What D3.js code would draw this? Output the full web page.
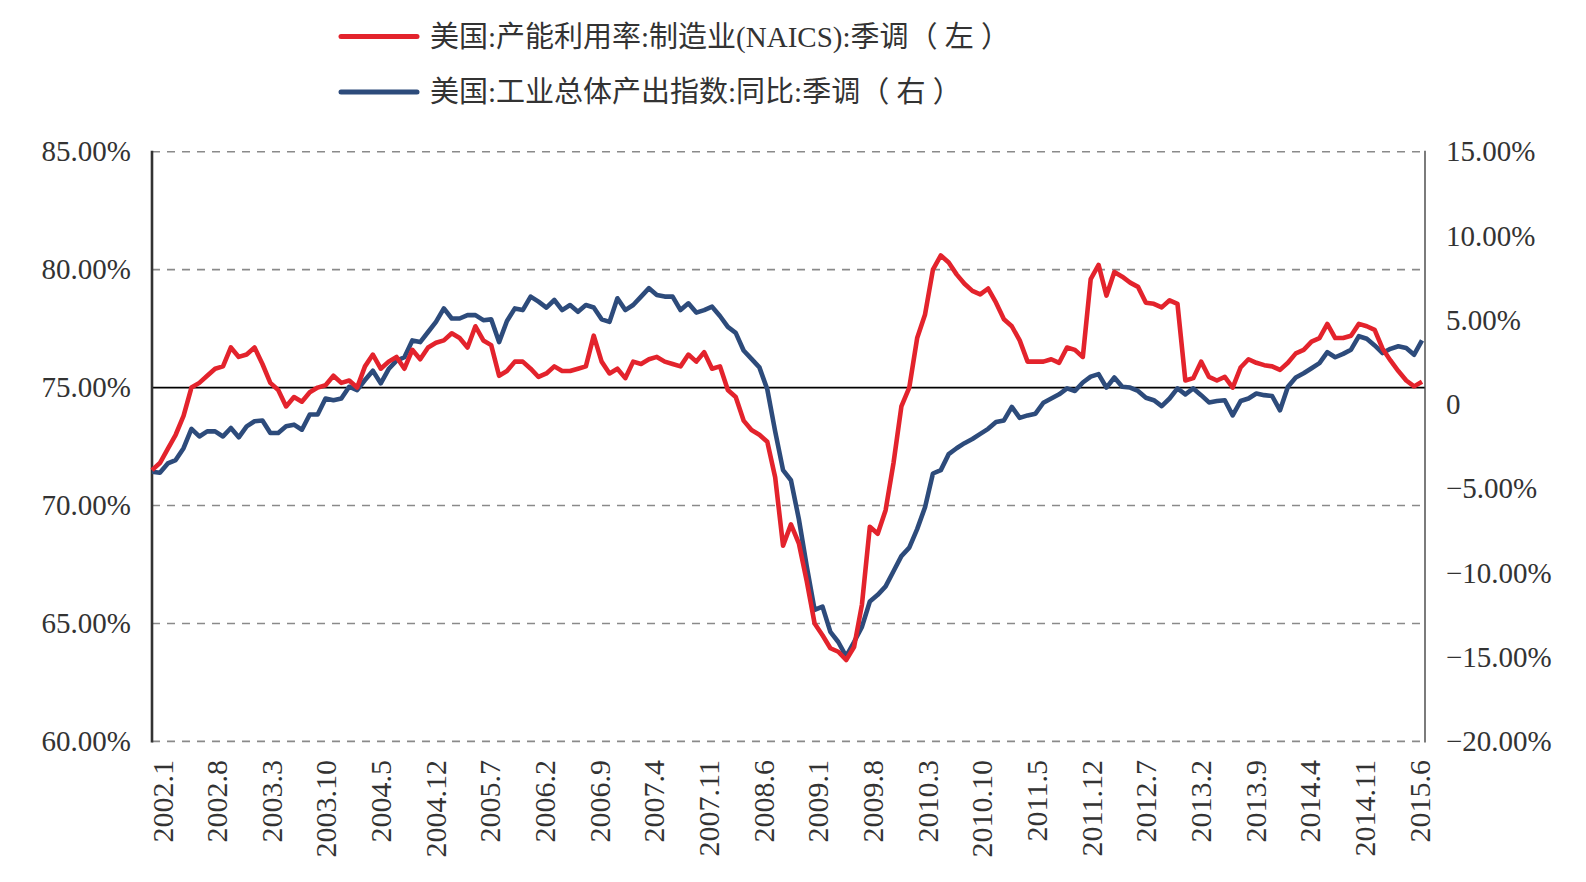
<!DOCTYPE html>
<html>
<head>
<meta charset="utf-8">
<script src="https://cdn.jsdelivr.net/npm/d3@7"></script>
<style>
  html, body { margin: 0; padding: 0; background: #fff; }
  svg { display: block; }
</style>
</head>
<body>
<svg id="chart" width="1586" height="882"></svg>
<script>
// monthly categories 2002.1 .. 2015.6
const months = d3.range(162).map(i => (2002 + Math.floor(i / 12)) + "." + (i % 12 + 1));

const tickLabels = ["2002.1", "2002.8", "2003.3", "2003.10", "2004.5", "2004.12", "2005.7", "2006.2",
  "2006.9", "2007.4", "2007.11", "2008.6", "2009.1", "2009.8", "2010.3", "2010.10", "2011.5",
  "2011.12", "2012.7", "2013.2", "2013.9", "2014.4", "2014.11", "2015.6"];

const leftTicks = [60, 65, 70, 75, 80, 85];
const rightTicks = [-20, -15, -10, -5, 0, 5, 10, 15];

const seriesNames = ["美国:产能利用率:制造业(NAICS):季调（ 左 ）", "美国:工业总体产出指数:同比:季调（ 右 ）"];

// 美国:产能利用率:制造业(NAICS):季调 (%)
const capUtil = [
  71.5, 71.8, 72.4, 73.0, 73.8, 75.0, 75.2, 75.5, 75.8, 75.9, 76.7, 76.3,
  76.4, 76.7, 76.0, 75.2, 74.9, 74.2, 74.6, 74.4, 74.8, 75.0, 75.1, 75.5,
  75.2, 75.3, 75.0, 75.9, 76.4, 75.8, 76.1, 76.3, 75.8, 76.6, 76.2, 76.7,
  76.9, 77.0, 77.3, 77.1, 76.7, 77.6, 77.0, 76.8, 75.5, 75.7, 76.1, 76.1,
  75.8, 75.45, 75.6, 75.9, 75.7, 75.7, 75.8, 75.9, 77.2, 76.1, 75.6, 75.8,
  75.4, 76.1, 76.0, 76.2, 76.3, 76.1, 76.0, 75.9, 76.4, 76.1, 76.5, 75.8,
  75.9, 74.9, 74.6, 73.6, 73.2, 73.0, 72.7, 71.2, 68.3, 69.2, 68.4, 66.8,
  65.0, 64.5, 63.95, 63.8, 63.45, 64.0, 65.8, 69.1, 68.8, 69.8, 71.8, 74.2,
  75.0, 77.1, 78.1, 80.0, 80.6, 80.3, 79.8, 79.4, 79.1, 78.95, 79.2, 78.6,
  77.9, 77.6, 77.0, 76.1, 76.1, 76.1, 76.2, 76.05, 76.7, 76.6, 76.3, 79.6,
  80.2, 78.9, 79.9, 79.7, 79.45, 79.27, 78.6, 78.55, 78.4, 78.7, 78.55, 75.3,
  75.4, 76.1, 75.45, 75.3, 75.45, 75.0, 75.85, 76.2, 76.05, 75.95, 75.9, 75.75,
  76.05, 76.45, 76.6, 76.95, 77.1, 77.7, 77.1, 77.1, 77.2, 77.7, 77.6, 77.45,
  76.65, 76.15, 75.7, 75.3, 75.05, 75.25
];

// 美国:工业总体产出指数:同比:季调 (%)
const ipYoy = [
  -4.0, -4.05, -3.5, -3.3, -2.6, -1.45, -1.9, -1.6, -1.6, -1.9, -1.4, -1.95,
  -1.3, -1.0, -0.95, -1.7, -1.7, -1.3, -1.2, -1.5, -0.6, -0.6, 0.35, 0.25,
  0.35, 1.05, 0.85, 1.45, 2.0, 1.25, 2.1, 2.6, 2.8, 3.8, 3.7, 4.3,
  4.9, 5.7, 5.1, 5.1, 5.3, 5.3, 5.0, 5.05, 3.7, 4.95, 5.7, 5.6,
  6.4, 6.1, 5.75, 6.2, 5.6, 5.9, 5.5, 5.9, 5.75, 5.05, 4.9, 6.3,
  5.6, 5.9, 6.4, 6.9, 6.5, 6.4, 6.4, 5.6, 6.0, 5.45, 5.6, 5.8,
  5.25, 4.6, 4.25, 3.2, 2.7, 2.2, 0.9, -1.6, -3.9, -4.5, -6.8, -9.6,
  -12.2, -12.0, -13.5, -14.1, -14.95, -14.1, -13.2, -11.7, -11.3, -10.8, -9.9, -9.0,
  -8.5, -7.4, -6.1, -4.1, -3.9, -2.95, -2.6, -2.3, -2.05, -1.75, -1.45, -1.05,
  -0.95, -0.15, -0.8, -0.65, -0.55, 0.1, 0.35, 0.6, 0.95, 0.8, 1.3, 1.65,
  1.8, 1.0, 1.6, 1.05, 1.0, 0.8, 0.4, 0.25, -0.1, 0.35, 0.95, 0.6,
  0.95, 0.55, 0.12, 0.2, 0.25, -0.65, 0.2, 0.35, 0.65, 0.55, 0.5, -0.35,
  1.05, 1.6, 1.85, 2.15, 2.45, 3.1, 2.8, 3.0, 3.25, 4.05, 3.9, 3.5,
  3.05, 3.3, 3.45, 3.35, 2.95, 3.8
];

const RED = "#e3232c";
const BLUE = "#2d4b7b";
const TEXT = "#333";
const SERIF = "'Liberation Serif', 'Times New Roman', serif";

const svg = d3.select("#chart");

const plotTop = 151.7, plotBottom = 741.4, plotLeft = 152, plotRight = 1425;

const x = d3.scalePoint().domain(months).range([plotLeft, 1422]);
const yL = d3.scaleLinear().domain([60, 85]).range([plotBottom, plotTop]);
const yR = d3.scaleLinear().domain([-20, 15]).range([plotBottom, plotTop]);

// dashed grid on left ticks
svg.append("g")
  .selectAll("line")
  .data(leftTicks.filter(d => d !== 75))
  .join("line")
  .attr("x1", plotLeft).attr("x2", plotRight)
  .attr("y1", d => yL(d)).attr("y2", d => yL(d))
  .attr("stroke", "#8a8a8a")
  .attr("stroke-width", 1.6)
  .attr("stroke-dasharray", "8,7");

// solid 75% line
svg.append("line")
  .attr("x1", plotLeft).attr("x2", plotRight)
  .attr("y1", yL(75)).attr("y2", yL(75))
  .attr("stroke", "#000")
  .attr("stroke-width", 1.8);

// axis lines
svg.append("line")
  .attr("x1", plotLeft).attr("x2", plotLeft).attr("y1", plotTop - 1).attr("y2", plotBottom + 1)
  .attr("stroke", "#333").attr("stroke-width", 2.6);
svg.append("line")
  .attr("x1", plotRight).attr("x2", plotRight).attr("y1", plotTop - 1).attr("y2", plotBottom + 1)
  .attr("stroke", "#444").attr("stroke-width", 1.4);

// left axis labels
const gL = svg.append("g")
  .attr("transform", `translate(${plotLeft},0)`)
  .call(d3.axisLeft(yL).tickValues(leftTicks).tickSize(0).tickPadding(21)
    .tickFormat(d => d.toFixed(2) + "%"));
gL.select(".domain").remove();
gL.selectAll("text")
  .attr("font-family", SERIF).attr("font-size", 29).attr("fill", TEXT);

// right axis labels
const gR = svg.append("g")
  .attr("transform", `translate(${plotRight},0)`)
  .call(d3.axisRight(yR).tickValues(rightTicks).tickSize(0).tickPadding(21)
    .tickFormat(d => d === 0 ? "0" : (d < 0 ? "\u2212" : "") + Math.abs(d).toFixed(2) + "%"));
gR.select(".domain").remove();
gR.selectAll("text")
  .attr("font-family", SERIF).attr("font-size", 29).attr("fill", TEXT);

// rotated category labels (label box sits slightly inside the plot ends)
const nLab = tickLabels.length - 1;
svg.append("g")
  .selectAll("text")
  .data(tickLabels)
  .join("text")
  .attr("transform", (d, i) => `translate(${x(d) + 10 - 13 * i / nLab},760) rotate(-90)`)
  .attr("text-anchor", "end")
  .attr("dominant-baseline", "central")
  .attr("font-family", SERIF)
  .attr("font-size", 30)
  .attr("fill", TEXT)
  .text(d => d);

// series lines
const lineL = d3.line().x((d, i) => x(months[i])).y(d => yL(d));
const lineR = d3.line().x((d, i) => x(months[i])).y(d => yR(d));

svg.append("path")
  .datum(ipYoy)
  .attr("d", lineR)
  .attr("fill", "none")
  .attr("stroke", BLUE)
  .attr("stroke-width", 4.6)
  .attr("stroke-linejoin", "round");

svg.append("path")
  .datum(capUtil)
  .attr("d", lineL)
  .attr("fill", "none")
  .attr("stroke", RED)
  .attr("stroke-width", 4.6)
  .attr("stroke-linejoin", "round");

// legend
const legend = svg.append("g")
  .selectAll("g")
  .data(seriesNames)
  .join("g")
  .attr("transform", (d, i) => `translate(341,${36.5 + i * 55.5})`);

legend.append("line")
  .attr("x1", 0).attr("x2", 76)
  .attr("stroke", (d, i) => i === 0 ? RED : BLUE)
  .attr("stroke-width", 5)
  .attr("stroke-linecap", "round");

legend.append("text")
  .attr("x", 89)
  .attr("dominant-baseline", "central")
  .attr("font-family", "'Liberation Serif', 'Noto Sans CJK SC', serif")
  .attr("font-size", 29)
  .attr("fill", TEXT)
  .text(d => d);
</script>
</body>
</html>
